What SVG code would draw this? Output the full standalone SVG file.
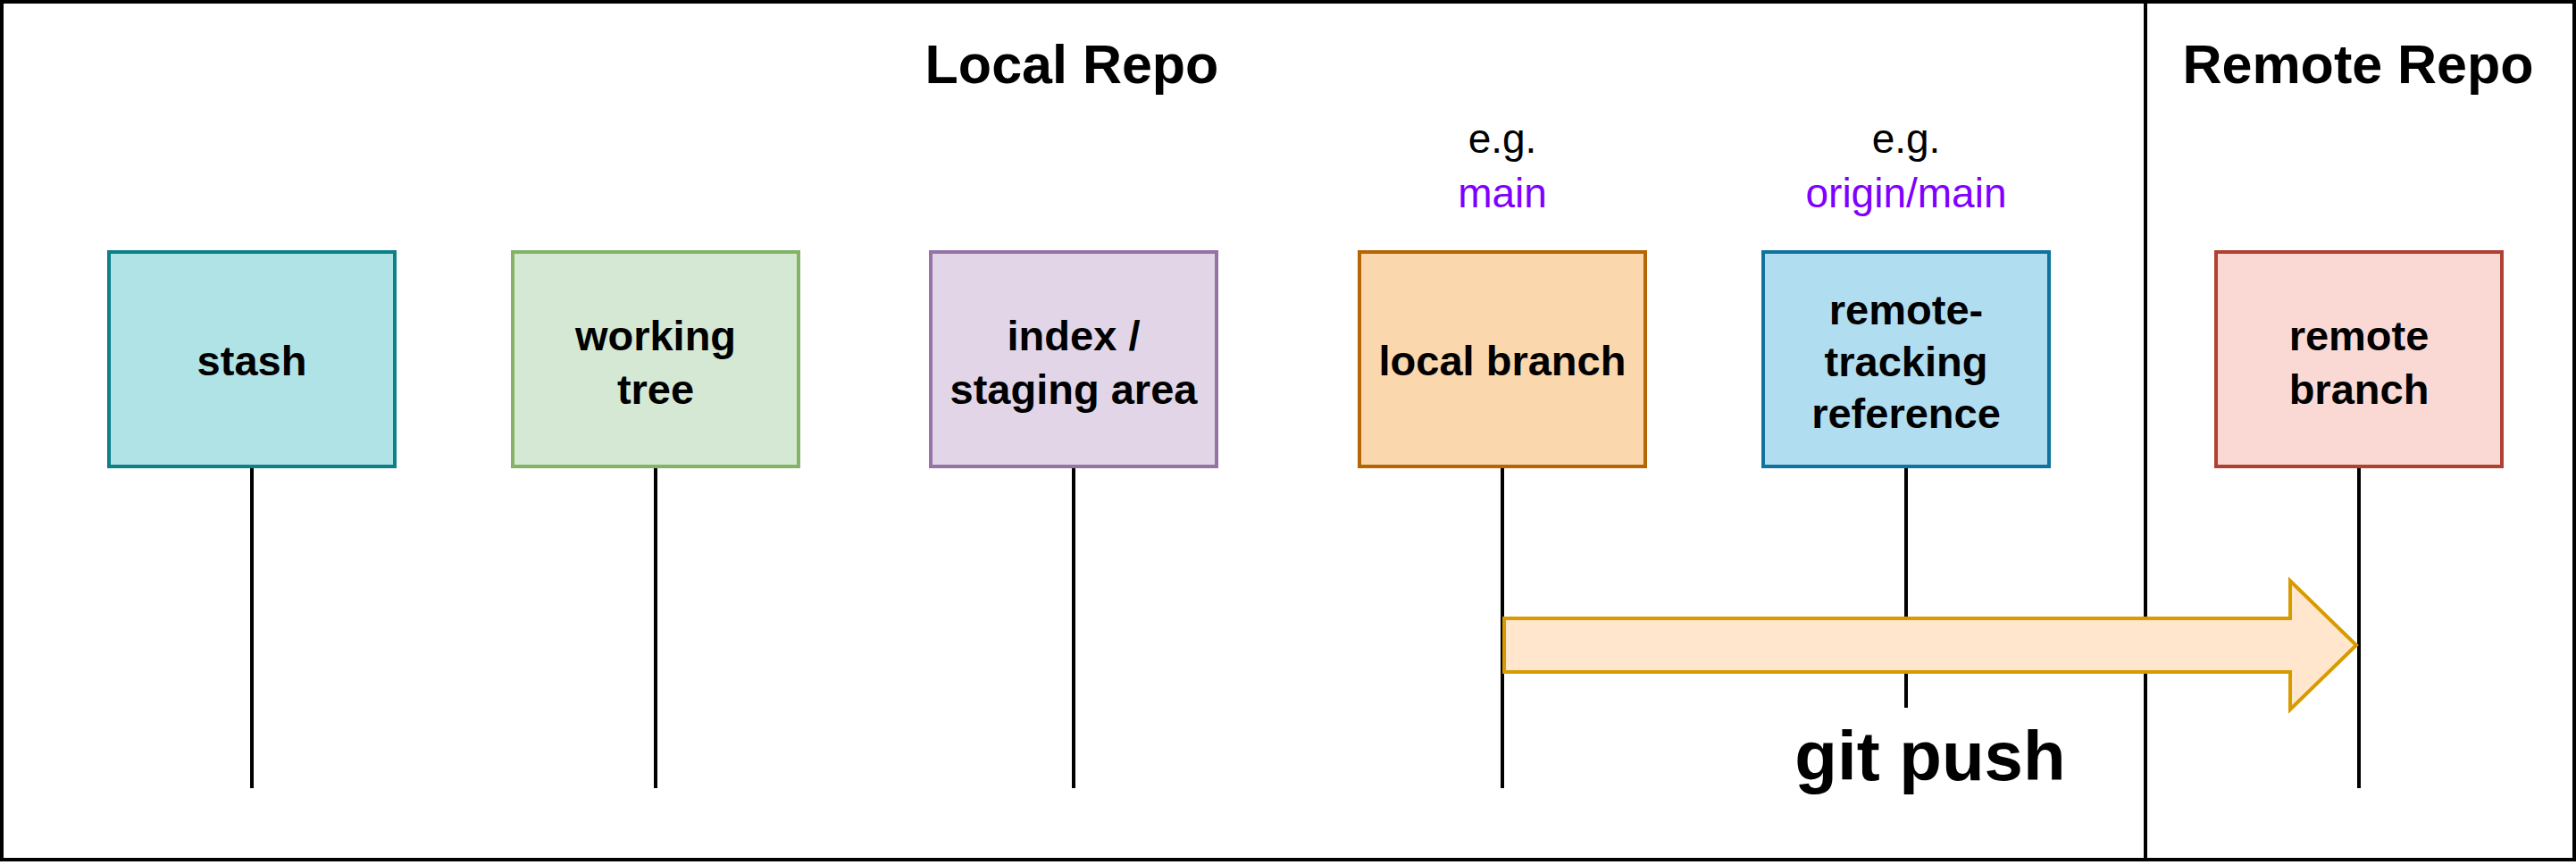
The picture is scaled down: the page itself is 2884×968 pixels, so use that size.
<svg xmlns="http://www.w3.org/2000/svg" width="2884" height="968" viewBox="0 0 2884 968">
<style>
.t{font-family:"Liberation Sans",Arial,sans-serif;font-weight:bold;text-anchor:middle;fill:#000}
.lbl{font-size:47px}
.title{font-size:61px}
.eg{font-family:"Liberation Sans",Arial,sans-serif;font-size:46px;text-anchor:middle;fill:#000}
.pur{fill:#7F00FF}
.ln{stroke:#000;stroke-width:4;fill:none}
.box{stroke-width:4}
</style>
<rect x="0" y="0" width="2884" height="968" fill="#fff"/>
<g id="frame">
<rect x="2" y="2" width="2880" height="960" fill="none" stroke="#000" stroke-width="4"/>
<line x1="2402" y1="2" x2="2402" y2="962" class="ln"/>
</g>
<g id="titles">
<text class="t title" x="1200" y="93">Local Repo</text>
<text class="t title" x="2640" y="93">Remote Repo</text>
</g>
<g id="connectors">
<line class="ln" x1="282" y1="522" x2="282" y2="882"/>
<line class="ln" x1="734" y1="522" x2="734" y2="882"/>
<line class="ln" x1="1202" y1="522" x2="1202" y2="882"/>
<line class="ln" x1="1682" y1="522" x2="1682" y2="882"/>
<line class="ln" x1="2134" y1="522" x2="2134" y2="792"/>
<line class="ln" x1="2641" y1="522" x2="2641" y2="882"/>
</g>
<g id="stash">
<rect class="box" x="122" y="282" width="320" height="240" fill="#b0e3e6" stroke="#0e8088"/>
<text class="t lbl" x="282" y="420">stash</text>
</g>
<g id="working-tree">
<rect class="box" x="574" y="282" width="320" height="240" fill="#d5e8d4" stroke="#82b366"/>
<text class="t lbl" x="734" y="392">working</text>
<text class="t lbl" x="734" y="452">tree</text>
</g>
<g id="index">
<rect class="box" x="1042" y="282" width="320" height="240" fill="#e1d5e7" stroke="#9673a6"/>
<text class="t lbl" x="1202" y="392">index /</text>
<text class="t lbl" x="1202" y="452">staging area</text>
</g>
<g id="local-branch">
<text class="eg" x="1682" y="171">e.g.</text>
<text class="eg pur" x="1682" y="232">main</text>
<rect class="box" x="1522" y="282" width="320" height="240" fill="#fad7ac" stroke="#b46504"/>
<text class="t lbl" x="1682" y="420">local branch</text>
</g>
<g id="remote-tracking">
<text class="eg" x="2134" y="171">e.g.</text>
<text class="eg pur" x="2134" y="232">origin/main</text>
<rect class="box" x="1974" y="282" width="320" height="240" fill="#b1ddf0" stroke="#10739e"/>
<text class="t lbl" x="2134" y="363">remote-</text>
<text class="t lbl" x="2134" y="421">tracking</text>
<text class="t lbl" x="2134" y="479">reference</text>
</g>
<g id="remote-branch">
<rect class="box" x="2481" y="282" width="320" height="240" fill="#fad9d5" stroke="#ae4132"/>
<text class="t lbl" x="2641" y="392">remote</text>
<text class="t lbl" x="2641" y="452">branch</text>
</g>
<g id="git-push">
<polygon points="1684,692 2564,692 2564,650 2638,722 2564,794 2564,752 1684,752" fill="#ffe6cc" stroke="#d79b00" stroke-width="4"/>
<text class="t" style="font-size:78px" x="2161" y="873">git push</text>
</g>
</svg>
